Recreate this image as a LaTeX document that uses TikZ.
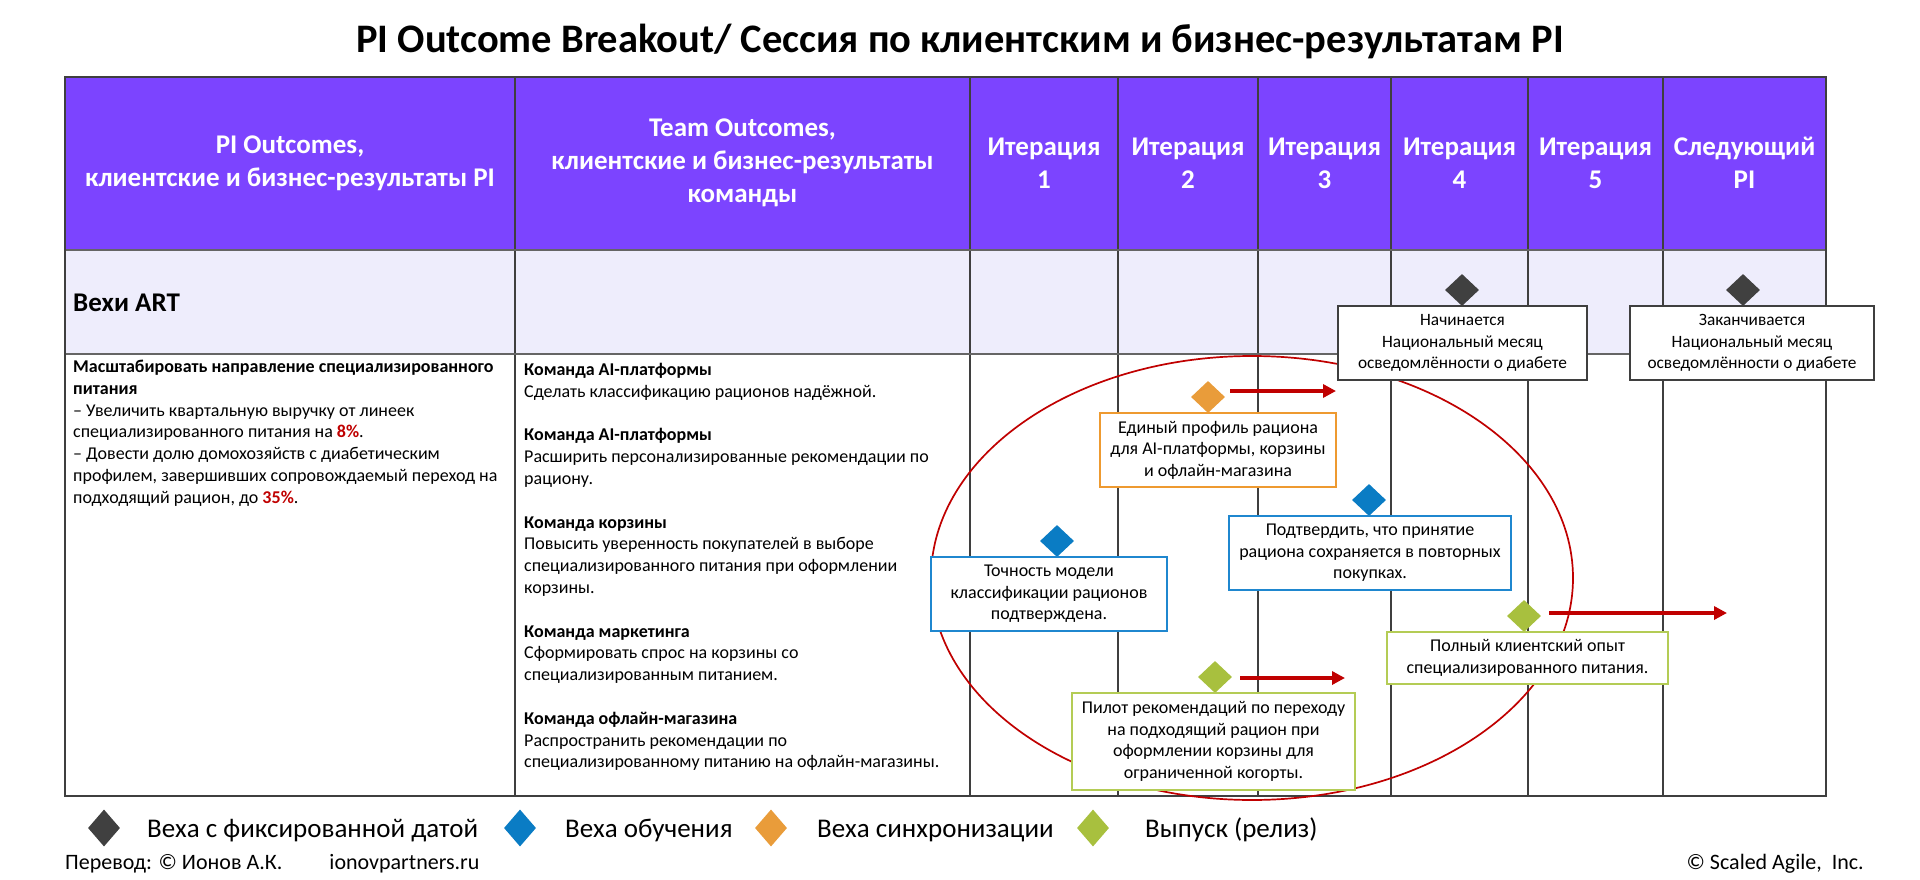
\documentclass[tikz,border=0pt]{standalone}
\usepackage{fontspec}
\setmainfont{Carlito}
\usetikzlibrary{shapes.geometric,arrows.meta}
\definecolor{hdr}{HTML}{7C44FF}
\definecolor{artrow}{HTML}{EEEDFC}
\definecolor{gridc}{HTML}{3F3F3F}
\definecolor{fixc}{HTML}{404040}
\definecolor{learnc}{HTML}{0A7CC4}
\definecolor{syncc}{HTML}{E99C3A}
\definecolor{relc}{HTML}{A8C03E}
\definecolor{dred}{HTML}{C00000}
\definecolor{boxblue}{HTML}{1F87CF}
\definecolor{boxorange}{HTML}{EE9A30}
\definecolor{boxgreen}{HTML}{B4CC55}
\tikzset{
  hdrtext/.style={text=white,font=\bfseries\fontsize{27}{33}\selectfont,align=center,inner sep=0pt},
  bodytext/.style={anchor=north west,inner sep=0pt,align=left,font=\fontsize{18}{21.8}\selectfont},
  msbox/.style={draw=#1,line width=1.8pt,fill=white,align=center,inner sep=0pt,font=\fontsize{18}{21.6}\selectfont},
  artbox/.style={draw=#1,line width=1.8pt,fill=white,align=center,inner sep=0pt,font=\fontsize{17.3}{21.5}\selectfont},
  msdiam/.style={diamond,fill=#1,draw=none,minimum width=34pt,minimum height=32pt,inner sep=0pt},
  legdiam/.style={diamond,fill=#1,draw=none,minimum width=32pt,minimum height=37pt,inner sep=0pt},
  legtext/.style={anchor=base west,inner sep=0pt,font=\fontsize{27}{30}\selectfont},
  foottext/.style={inner sep=0pt,font=\fontsize{22}{26}\selectfont},
  slip/.style={dred,line width=3.8pt,-{Triangle[length=13pt,width=13pt]}},
}
\begin{document}
\begin{tikzpicture}[x=1pt,y=-1pt]
\useasboundingbox (0,0) rectangle (1920,880);
\fill[white] (0,0) rectangle (1920,880);

% title
\node[anchor=base,font=\bfseries\fontsize{40.5}{46}\selectfont,inner sep=0pt] (title) at (960,53) {PI Outcome Breakout/ Сессия по клиентским и бизнес-результатам PI};

% table fills
\fill[hdr] (65,77) rectangle (1826,250);
\fill[artrow] (65,250) rectangle (1826,354);
\fill[white] (65,354) rectangle (1826,796);

% grid lines
\foreach \x in {515,970,1118,1258,1391,1528,1663}
  \draw[gridc,line width=1.2pt] (\x,77) -- (\x,796);
\draw[gridc!80,line width=1.6pt] (65,250) -- (1826,250);
\draw[gridc!80,line width=2pt] (65,354) -- (1826,354);
\draw[gridc!60,line width=2.8pt] (65,796) -- (1826,796);
\draw[gridc,line width=1.4pt] (65,77) rectangle (1826,796);

% header texts
\node[hdrtext] (h1) at (290,163) {PI Outcomes,\\клиентские и бизнес-результаты PI};
\node[hdrtext] (h2) at (742.5,163) {Team Outcomes,\\клиентские и бизнес-результаты\\команды};
\node[hdrtext] (i1) at (1044,163) {Итерация\\1};
\node[hdrtext] (i2) at (1188,163) {Итерация\\2};
\node[hdrtext] (i3) at (1324.5,163) {Итерация\\3};
\node[hdrtext] (i4) at (1459.5,163) {Итерация\\4};
\node[hdrtext] (i5) at (1595.5,163) {Итерация\\5};
\node[hdrtext] (i6) at (1744.5,163) {Следующий\\PI};

% ART row
\node[anchor=base west,inner sep=0pt,font=\bfseries\fontsize{27}{30}\selectfont] (art) at (73,311) {Вехи ART};

% body texts
\node[bodytext] (pio) at (73,357) {\strut\textbf{Масштабировать направление специализированного}\\
\textbf{питания}\\
– Увеличить квартальную выручку от линеек\\
специализированного питания на \textcolor{dred}{\textbf{8\%}}.\\
– Довести долю домохозяйств с диабетическим\\
профилем, завершивших сопровождаемый переход на\\
подходящий рацион, до \textcolor{dred}{\textbf{35\%}}.};

\node[bodytext] (team) at (524,360) {\strut\textbf{Команда AI-платформы}\\
Сделать классификацию рационов надёжной.\\[21.8pt]
\textbf{Команда AI-платформы}\\
Расширить персонализированные рекомендации по\\
рациону.\\[21.8pt]
\textbf{Команда корзины}\\
Повысить уверенность покупателей в выборе\\
специализированного питания при оформлении\\
корзины.\\[21.8pt]
\textbf{Команда маркетинга}\\
Сформировать спрос на корзины со\\
специализированным питанием.\\[21.8pt]
\textbf{Команда офлайн-магазина}\\
Распространить рекомендации по\\
специализированному питанию на офлайн-магазины.};

% focus ellipse
\draw[dred,line width=1.7pt] (1252,578) ellipse [x radius=321pt, y radius=222pt];

% ART milestones
\node[msdiam=fixc] (fx1) at (1462,290) {};
\node[artbox=gridc,minimum width=249pt,minimum height=74pt] (fxb1) at (1462.5,343) {Начинается\\Национальный месяц\\осведомлённости о диабете};
\node[msdiam=fixc] (fx2) at (1743,290) {};
\node[artbox=gridc,minimum width=244pt,minimum height=74pt] (fxb2) at (1752,343) {Заканчивается\\Национальный месяц\\осведомлённости о диабете};

% sync milestone
\node[msdiam=syncc] (sy) at (1208,397) {};
\node[msbox=boxorange,minimum width=236pt,minimum height=74pt] (syb) at (1218,450) {Единый профиль рациона\\для AI-платформы, корзины\\и офлайн-магазина};
\coordinate (sya) at (1230,391);
\coordinate (syz) at (1336,391);
\draw[slip] (sya) -- (syz);

% learning milestones
\node[msdiam=learnc] (le1) at (1057,541) {};
\node[msbox=boxblue,minimum width=236pt,minimum height=74pt] (leb1) at (1049,594) {Точность модели\\классификации рационов\\подтверждена.};
\node[msdiam=learnc] (le2) at (1369,500) {};
\node[msbox=boxblue,minimum width=282pt,minimum height=74pt] (leb2) at (1370,553) {Подтвердить, что принятие\\рациона сохраняется в повторных\\покупках.};

% release milestones
\node[msdiam=relc] (re1) at (1524,616) {};
\node[msbox=boxgreen,minimum width=281pt,minimum height=52pt] (reb1) at (1527.5,658) {Полный клиентский опыт\\специализированного питания.};
\coordinate (rea) at (1549,613);
\coordinate (rez) at (1727,613);
\draw[slip] (rea) -- (rez);

\node[msdiam=relc] (re2) at (1215,677) {};
\node[msbox=boxgreen,minimum width=283pt,minimum height=97pt] (reb2) at (1213.5,741.5) {Пилот рекомендаций по переходу\\на подходящий рацион при\\оформлении корзины для\\ограниченной когорты.};
\coordinate (rfa) at (1240,678);
\coordinate (rfz) at (1345,678);
\draw[slip] (rfa) -- (rfz);

% legend
\node[legdiam=fixc] (lg1) at (104,828) {};
\node[legtext] (lt1) at (147,837) {Веха с фиксированной датой};
\node[legdiam=learnc] (lg2) at (520,828) {};
\node[legtext] (lt2) at (565,837) {Веха обучения};
\node[legdiam=syncc] (lg3) at (771,828) {};
\node[legtext] (lt3) at (817,837) {Веха синхронизации};
\node[legdiam=relc] (lg4) at (1093,828) {};
\node[legtext] (lt4) at (1145,837) {Выпуск (релиз)};

% footer
\node[foottext,anchor=base west] (tr) at (65,869) {Перевод: © Ионов А.К.\hspace*{47pt}ionovpartners.ru};
\node[foottext,anchor=base east] (cp) at (1864,869) {© Scaled Agile,\ \ Inc.};
\end{tikzpicture}
\end{document}
